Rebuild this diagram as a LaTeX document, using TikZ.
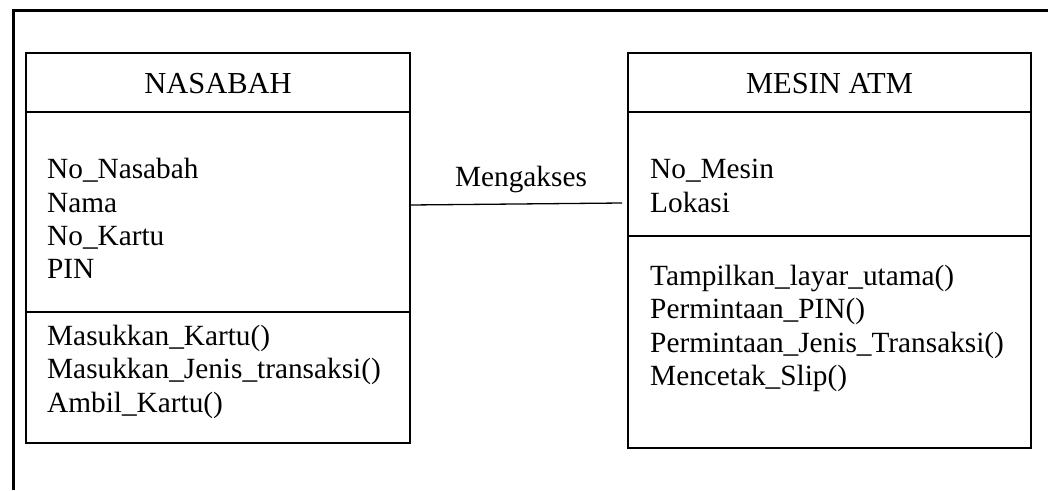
\documentclass[tikz,border=0pt]{standalone}
\usepackage{fontspec}
\setmainfont{Liberation Serif}
\begin{document}
\begin{tikzpicture}[x=1pt,y=-1pt,
  frame/.style={line width=3pt},
  classbox/.style={draw, line width=1.6pt, inner sep=0pt, outer sep=0pt},
  sep/.style={line width=1.6pt},
  link/.style={line width=1.3pt},
  item/.style={font=\fontsize{29.3}{33}\selectfont, inner sep=0pt, anchor=base west},
  title/.style={font=\fontsize{30.5}{33}\selectfont, inner sep=0pt, anchor=base}]
\useasboundingbox (0,0) rectangle (1048,490);

% page frame (top and left edges)
\draw[frame] (13.5,490) -- (13.5,10.5) -- (1048,10.5);

% class NASABAH
\node[classbox, minimum width=384pt, minimum height=390pt] (nasabah) at (218,248) {};
\draw[sep] (26,112) -- (410,112);
\draw[sep] (26,312) -- (410,312);
\node[title] (nasabahTitle) at (218,93) {NASABAH};
\node[item] (nA1) at (47,178) {No\_Nasabah};
\node[item] (nA2) at (47,212) {Nama};
\node[item] (nA3) at (47,245) {No\_Kartu};
\node[item] (nA4) at (47,278) {PIN};
\node[item] (nM1) at (47,345) {Masukkan\_Kartu()};
\node[item] (nM2) at (47,378) {Masukkan\_Jenis\_transaksi()};
\node[item] (nM3) at (47,412) {Ambil\_Kartu()};

% class MESIN ATM
\node[classbox, minimum width=403pt, minimum height=395pt] (atm) at (829.5,250.5) {};
\draw[sep] (628,112) -- (1031,112);
\draw[sep] (628,236) -- (1031,236);
\node[title] (atmTitle) at (829.5,93) {MESIN ATM};
\node[item] (aA1) at (650,178) {No\_Mesin};
\node[item] (aA2) at (650,212) {Lokasi};
\node[item] (aM1) at (650,285) {Tampilkan\_layar\_utama()};
\node[item] (aM2) at (650,318) {Permintaan\_PIN()};
\node[item] (aM3) at (650,352) {Permintaan\_Jenis\_Transaksi()};
\node[item] (aM4) at (650,385) {Mencetak\_Slip()};

% association
\coordinate (linkStart) at (410,205);
\coordinate (linkEnd) at (622,203);
\draw[link] (linkStart) -- (linkEnd);
\node[item, anchor=base] (assoc) at (521,186) {Mengakses};
\end{tikzpicture}
\end{document}
